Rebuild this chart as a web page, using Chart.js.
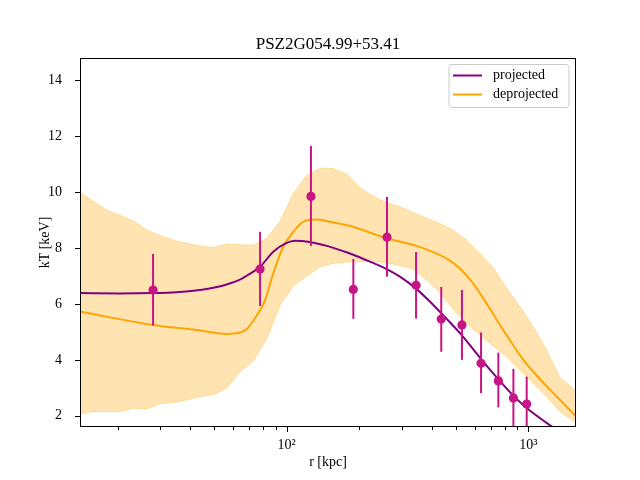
<!DOCTYPE html>
<html>
<head>
<meta charset="utf-8">
<script src="https://cdn.jsdelivr.net/npm/chart.js@4.4.0/dist/chart.umd.min.js"></script>
<style>
  body { margin: 0; background: #fff; }
  #wrap { width: 640px; height: 480px; }
</style>
</head>
<body>
<div id="wrap"><canvas id="kt-chart" width="640" height="480"></canvas></div>
<script>
// 圖表資料
const titleText = 'PSZ2G054.99+53.41';
const xTickValues = [20, 30, 40, 50, 60, 70, 80, 90, 100, 200, 300, 400, 500, 600, 700, 800, 900, 1000];
const yTickValues = [2, 4, 6, 8, 10, 12, 14];

// 觀測點 (r, kT, 上下誤差)
const obsR  = [28.0, 77.6, 126, 188.7, 260, 343, 436, 531, 637, 751, 867, 984];
const obsT  = [6.5, 7.25, 9.85, 6.52, 8.39, 6.67, 5.46, 5.25, 3.88, 3.25, 2.64, 2.42];
const obsHi = [7.79, 8.58, 11.65, 7.61, 9.83, 7.86, 6.61, 6.5, 4.98, 4.26, 3.68, 3.40];
const obsLo = [5.23, 5.93, 8.08, 5.47, 6.98, 5.48, 4.29, 4.0, 2.81, 2.30, 1.5, 1.5];

// projected 曲線
const projR = [13.96, 20.4, 28.0, 35.0, 43.8, 49.7, 56.5, 64.1, 68.3, 77.6, 88.0, 99.0, 108.5, 122.5, 148, 178, 209, 259, 294, 343, 392, 435, 531, 637, 749, 864, 987, 1249, 1600];
const projT = [6.39, 6.38, 6.39, 6.42, 6.5, 6.58, 6.7, 6.87, 7.01, 7.33, 7.87, 8.17, 8.26, 8.23, 8.07, 7.84, 7.6, 7.25, 6.98, 6.55, 6.08, 5.68, 4.88, 4.03, 3.32, 2.73, 2.27, 1.62, 1.0];

// deprojected 曲線
const deprojR = [13.96, 28.0, 43.8, 56.5, 64.1, 68.3, 72.7, 81.4, 88.0, 96.8, 106.5, 117, 133, 151, 183, 259, 345, 431, 474, 519, 573, 631, 694, 813, 953, 1120, 1307, 1574];
const deprojT = [5.72, 5.25, 5.05, 4.93, 4.98, 5.1, 5.4, 6.14, 7.1, 8.05, 8.58, 8.94, 9.02, 8.94, 8.79, 8.35, 8.08, 7.75, 7.55, 7.28, 6.88, 6.38, 5.82, 4.88, 4.0, 3.3, 2.7, 1.98];

// deprojected 不確定範圍
const bandR  = [13.96, 15.84, 18.0, 20.4, 23.2, 26.4, 29.9, 33.9, 38.6, 43.8, 49.7, 56.5, 64.1, 72.7, 82.7, 93.8, 106.5, 121, 137, 156, 177, 201, 228, 259, 294, 334, 380, 431, 489, 555, 631, 716, 813, 923, 1048, 1190, 1351, 1574];
const bandHi = [10.0, 9.68, 9.36, 9.18, 8.97, 8.65, 8.45, 8.28, 8.18, 8.07, 8.02, 8.15, 8.12, 8.1, 8.35, 8.96, 9.95, 10.6, 10.85, 10.85, 10.65, 10.15, 9.86, 9.62, 9.48, 9.27, 9.06, 8.88, 8.64, 8.28, 7.8, 7.3, 6.56, 5.9, 5.19, 4.35, 3.37, 2.9];
const bandLo = [2.07, 2.15, 2.15, 2.15, 2.27, 2.24, 2.43, 2.48, 2.57, 2.69, 2.75, 2.99, 3.58, 3.96, 4.75, 5.95, 6.65, 7.0, 7.32, 7.45, 7.5, 7.52, 7.52, 7.48, 7.38, 7.25, 6.85, 6.4, 5.81, 5.3, 4.88, 4.5, 4.12, 3.64, 3.17, 2.69, 2.15, 1.75];

const FONT = '"Liberation Serif", "DejaVu Serif", serif';
const pts = (xs, ys) => xs.map((x, i) => ({ x: x, y: ys[i] }));

// 誤差棒
const errorBars = {
    id: 'errorBars',
    beforeDatasetDraw(chart, args) {
        const ds = chart.data.datasets[args.index];
        if (!ds.errHi) return;
        const { ctx, chartArea: a } = chart;
        const xs = chart.scales.x, ys = chart.scales.y;
        ctx.save();
        ctx.beginPath();
        ctx.rect(a.left, a.top, a.right - a.left, a.bottom - a.top);
        ctx.clip();
        ctx.strokeStyle = ds.backgroundColor;
        ctx.lineWidth = 2;
        ds.data.forEach((p, i) => {
            const px = xs.getPixelForValue(p.x);
            ctx.beginPath();
            ctx.moveTo(px, ys.getPixelForValue(ds.errHi[i]));
            ctx.lineTo(px, ys.getPixelForValue(ds.errLo[i]));
            ctx.stroke();
        });
        ctx.restore();
    }
};

// 外框、刻度線與圖例
const frame = {
    id: 'frame',
    afterDraw(chart) {
        const { ctx, chartArea: a } = chart;
        const xs = chart.scales.x, ys = chart.scales.y;
        ctx.save();
        ctx.strokeStyle = '#000';
        ctx.lineWidth = 1;
        ctx.beginPath();
        xs.ticks.forEach(t => {
            const px = Math.round(xs.getPixelForValue(t.value)) + 0.5;
            const major = Math.abs(Math.log10(t.value) % 1) < 1e-9;
            ctx.moveTo(px, a.bottom);
            ctx.lineTo(px, a.bottom + (major ? 5 : 3));
        });
        ys.ticks.forEach(t => {
            const py = Math.round(ys.getPixelForValue(t.value)) + 0.5;
            ctx.moveTo(a.left, py);
            ctx.lineTo(a.left - 5, py);
        });
        ctx.stroke();
        ctx.strokeRect(Math.round(a.left) + 0.5, Math.round(a.top) + 0.5,
            Math.round(a.right - a.left) - 1, Math.round(a.bottom - a.top) - 1);

        // 圖例
        const items = chart.data.datasets.filter(d => d.inLegend);
        const bx = a.right - 127, by = a.top + 6.5, bw = 120, bh = 43;
        ctx.beginPath();
        ctx.roundRect(bx, by, bw, bh, 3);
        ctx.fillStyle = 'rgba(255,255,255,0.8)';
        ctx.fill();
        ctx.strokeStyle = '#cccccc';
        ctx.stroke();
        ctx.font = '14px ' + FONT;
        ctx.textBaseline = 'middle';
        ctx.textAlign = 'left';
        items.forEach((d, i) => {
            const ly = by + 11 + i * 19;
            ctx.strokeStyle = d.borderColor;
            ctx.lineWidth = 2;
            ctx.beginPath();
            ctx.moveTo(bx + 4, ly);
            ctx.lineTo(bx + 33, ly);
            ctx.stroke();
            ctx.fillStyle = '#000';
            ctx.fillText(d.label, bx + 44, ly);
        });
        ctx.restore();
    }
};

function initChart() {
    const ctx = document.getElementById('kt-chart').getContext('2d');
    new Chart(ctx, {
        type: 'line',
        data: {
            datasets: [
                {
                    type: 'scatter',
                    label: 'data',
                    data: pts(obsR, obsT),
                    errHi: obsHi,
                    errLo: obsLo,
                    backgroundColor: '#C71585',
                    borderWidth: 0,
                    pointRadius: 4.6,
                    clip: 0
                },
                {
                    label: 'projected',
                    inLegend: true,
                    data: pts(projR, projT),
                    borderColor: '#800080',
                    borderWidth: 2,
                    pointRadius: 0,
                    cubicInterpolationMode: 'monotone',
                    fill: false,
                    clip: 0
                },
                {
                    label: 'deprojected',
                    inLegend: true,
                    data: pts(deprojR, deprojT),
                    borderColor: '#FFA500',
                    borderWidth: 2,
                    pointRadius: 0,
                    cubicInterpolationMode: 'monotone',
                    fill: false,
                    clip: 0
                },
                {
                    label: 'band high',
                    data: pts(bandR, bandHi),
                    borderColor: 'rgba(255,165,0,0.3)',
                    backgroundColor: 'rgba(255,165,0,0.3)',
                    borderWidth: 1,
                    pointRadius: 0,
                    tension: 0,
                    fill: '+1',
                    clip: 0
                },
                {
                    label: 'band low',
                    data: pts(bandR, bandLo),
                    borderColor: 'rgba(255,165,0,0.3)',
                    borderWidth: 1,
                    pointRadius: 0,
                    tension: 0,
                    fill: false,
                    clip: 0
                }
            ]
        },
        options: {
            responsive: false,
            animation: false,
            devicePixelRatio: 1,
            layout: { padding: { top: 34, right: 64, bottom: 0, left: 0 } },
            plugins: {
                legend: { display: false },
                tooltip: { enabled: false },
                title: {
                    display: true,
                    text: titleText,
                    fullSize: false,
                    color: '#000',
                    font: { family: FONT, size: 17, weight: 'normal' },
                    padding: { top: 0, bottom: 3.6 }
                }
            },
            scales: {
                x: {
                    type: 'logarithmic',
                    position: 'bottom',
                    min: 13.96,
                    max: 1574,
                    grid: { display: false },
                    border: { display: false },
                    afterBuildTicks: s => { s.ticks = xTickValues.map(v => ({ value: v })); },
                    afterFit: s => { s.height = 53; },
                    ticks: {
                        autoSkip: false,
                        maxRotation: 0,
                        minRotation: 0,
                        padding: 2,
                        color: '#000',
                        font: { family: FONT, size: 14 },
                        callback: v => v === 100 ? '10²' : v === 1000 ? '10³' : ''
                    },
                    title: {
                        display: true,
                        text: 'r [kpc]',
                        color: '#000',
                        font: { family: FONT, size: 14 },
                        padding: { top: 0, bottom: 9.6 }
                    }
                },
                y: {
                    type: 'linear',
                    min: 1.6,
                    max: 14.8,
                    grid: { display: false },
                    border: { display: false },
                    afterBuildTicks: s => { s.ticks = yTickValues.map(v => ({ value: v })); },
                    afterFit: s => { s.width = 80; },
                    ticks: {
                        padding: 10,
                        color: '#000',
                        font: { family: FONT, size: 14 }
                    },
                    title: {
                        display: true,
                        text: 'kT [keV]',
                        color: '#000',
                        font: { family: FONT, size: 14 },
                        padding: { top: 36.6, bottom: 0 }
                    }
                }
            }
        },
        plugins: [errorBars, frame]
    });
}

document.addEventListener('DOMContentLoaded', initChart);
</script>
</body>
</html>
